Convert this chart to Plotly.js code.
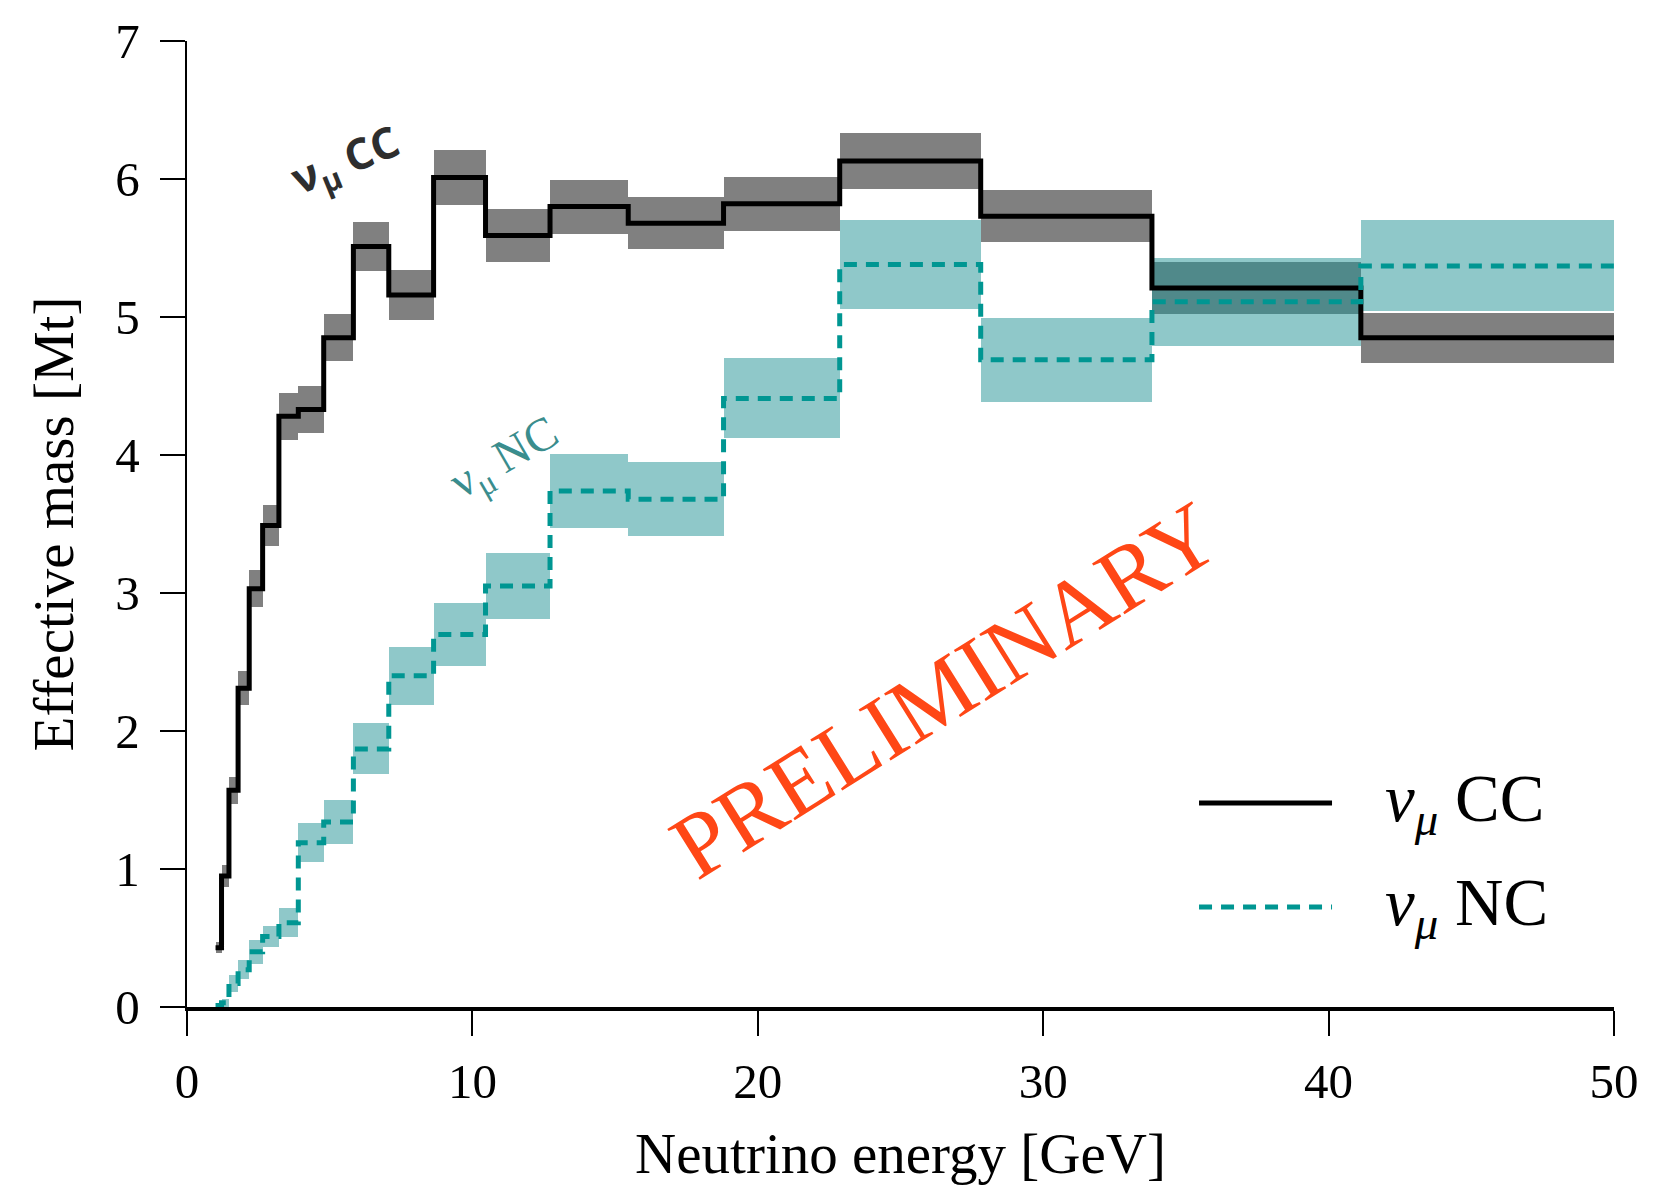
<!DOCTYPE html>
<html><head><meta charset="utf-8">
<script src="https://cdn.plot.ly/plotly-3.0.1.min.js"></script>
<style>html,body{margin:0;padding:0;background:#fff}#chart{width:1674px;height:1196px}</style>
</head><body><div id="chart"></div>
<script>
// Bin edges in GeV
const binEdges = [1.00, 1.21, 1.47, 1.79, 2.18, 2.65, 3.22, 3.90, 4.79, 5.83, 7.07, 8.64, 10.46, 12.72, 15.46, 18.80, 22.87, 27.81, 33.81, 41.13, 50.00];
// nu_mu CC effective mass [Mt] and band half-width
const ccMass = [0.43, 0.95, 1.57, 2.31, 3.03, 3.49, 4.28, 4.33, 4.85, 5.51, 5.16, 6.01, 5.59, 5.80, 5.68, 5.82, 6.13, 5.73, 5.21, 4.85];
const ccErr  = [0.04, 0.08, 0.10, 0.125, 0.135, 0.15, 0.17, 0.17, 0.17, 0.18, 0.18, 0.20, 0.19, 0.195, 0.19, 0.195, 0.20, 0.19, 0.185, 0.18];
// nu_mu NC effective mass [Mt] and band half-width
const ncMass = [0.01, 0.03, 0.17, 0.27, 0.40, 0.51, 0.61, 1.19, 1.34, 1.87, 2.40, 2.70, 3.05, 3.74, 3.68, 4.41, 5.38, 4.69, 5.11, 5.37];
const ncErr  = [0.01, 0.03, 0.06, 0.07, 0.085, 0.075, 0.105, 0.14, 0.16, 0.185, 0.21, 0.23, 0.24, 0.27, 0.27, 0.29, 0.325, 0.305, 0.32, 0.33];
const xTicks = [0, 10, 20, 30, 40, 50];
const yTicks = [0, 1, 2, 3, 4, 5, 6, 7];
const ccName = '<i>ν</i><sub><i>μ</i></sub> CC';
const ncName = '<i>ν</i><sub><i>μ</i></sub> NC';

const centers = binEdges.slice(0, -1).map((e, i) => (e + binEdges[i + 1]) / 2);
const widths = binEdges.slice(0, -1).map((e, i) => binEdges[i + 1] - e);
function band(mass, err, color) {
  return {type: 'bar', x: centers, width: widths,
    base: mass.map((m, i) => m - err[i]), y: err.map(e => 2 * e),
    marker: {color: color, line: {width: 0}}, hoverinfo: 'skip', showlegend: false};
}
function step(mass, line, name) {
  return {type: 'scatter', mode: 'lines', x: binEdges, y: mass.concat([mass[mass.length - 1]]),
    line: Object.assign({shape: 'hv'}, line), name: name, showlegend: false};
}
const teal = '#009692';
const data = [
  band(ccMass, ccErr, '#808080'),
  band(ncMass, ncErr, 'rgba(32,145,147,0.5)'),
  step(ccMass, {color: '#000', width: 5}, ccName),
  step(ncMass, {color: teal, width: 5, dash: '13px,9px'}, ncName)
];
const serif = '"Liberation Serif", "DejaVu Serif", serif';
const layout = {
  width: 1674, height: 1196,
  margin: {l: 187, r: 60, t: 41, b: 189},
  paper_bgcolor: '#fff', plot_bgcolor: '#fff',
  showlegend: false, barmode: 'overlay', bargap: 0,
  font: {family: serif, color: '#000'},
  xaxis: {range: [0, 50], tickvals: xTicks, ticktext: xTicks.map(String), ticks: 'outside', ticklen: 25, tickwidth: 2,
    tickcolor: '#000', showline: true, linecolor: '#000', linewidth: 3.5, showgrid: false, zeroline: false,
    tickfont: {size: 49, family: serif}, ticklabelstandoff: 4,
    title: {text: 'Neutrino energy [GeV]', font: {size: 57, family: serif}, standoff: 26}},
  yaxis: {range: [0, 7], tickvals: yTicks, ticktext: yTicks.map(String), ticks: 'outside', ticklen: 25, tickwidth: 2,
    tickcolor: '#000', showline: true, linecolor: '#000', linewidth: 2.5, showgrid: false, zeroline: false,
    tickfont: {size: 49, family: serif}, ticklabelstandoff: 10,
    title: {text: 'Effective mass [Mt]', font: {size: 57, family: serif}, standoff: 24}},
  shapes: [
    {type: 'line', xref: 'paper', yref: 'paper', x0: 0.7092, x1: 0.8024, y0: 0.2111, y1: 0.2111, line: {color: '#000', width: 5}},
    {type: 'line', xref: 'paper', yref: 'paper', x0: 0.7092, x1: 0.8024, y0: 0.1035, y1: 0.1035, line: {color: teal, width: 5, dash: '13px,9px'}}
  ],
  annotations: [
    {xref: 'paper', yref: 'paper', x: 0.8384, y: 0.2111, xanchor: 'left', yanchor: 'middle', showarrow: false, text: ccName, font: {size: 67, family: serif, color: '#000'}},
    {xref: 'paper', yref: 'paper', x: 0.8384, y: 0.1035, xanchor: 'left', yanchor: 'middle', showarrow: false, text: ncName, font: {size: 67, family: serif, color: '#000'}},
    {xref: 'x', yref: 'y', x: 5.57, y: 6.13, showarrow: false, textangle: -22, text: '<b>ν<sub>μ</sub> CC</b>', font: {size: 43, family: '"Open Sans", sans-serif', color: '#2e2e2e'}},
    {xref: 'x', yref: 'y', x: 11.14, y: 3.97, showarrow: false, textangle: -30, text: 'ν<sub>μ</sub> NC', font: {size: 47, family: serif, color: '#3a8d8d'}},
    {xref: 'x', yref: 'y', x: 26.55, y: 2.30, showarrow: false, textangle: -32, text: 'PRELIMINARY', font: {size: 92, family: serif, color: '#ff4716'}}
  ]
};
Plotly.newPlot('chart', data, layout, {displayModeBar: false, staticPlot: true});
</script>
</body></html>
